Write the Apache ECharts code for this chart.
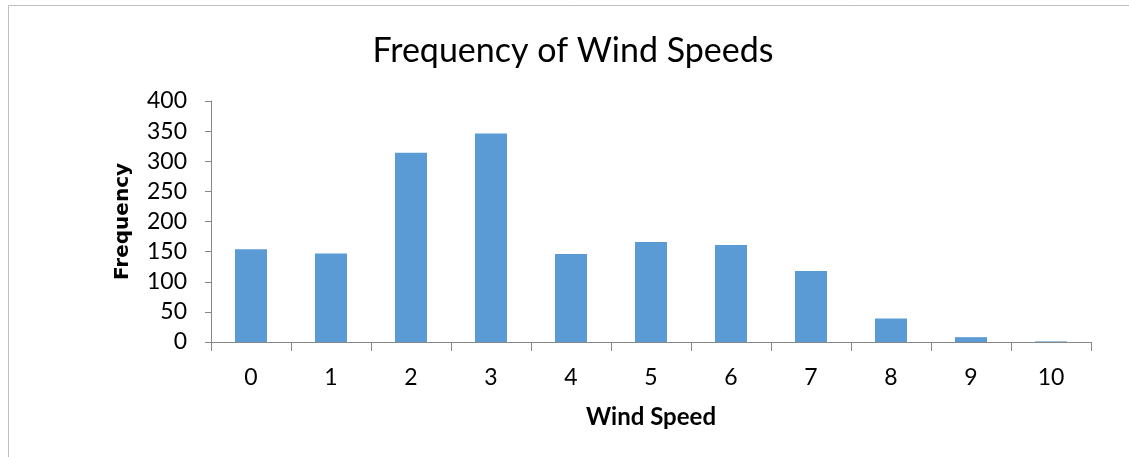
<!DOCTYPE html>
<html><head><meta charset="utf-8">
<script src="https://cdn.jsdelivr.net/npm/echarts@6/dist/echarts.min.js"></script>
<style>html,body{margin:0;padding:0;background:#fff}#c{width:1129px;height:457px}</style>
</head><body><div id="c"></div>
<script>
const categories = ['0','1','2','3','4','5','6','7','8','9','10'];
const frequency = [154, 147, 314, 346, 146, 166, 161, 118, 39, 8, 1];
const yTicks = [0, 50, 100, 150, 200, 250, 300, 350, 400];

const FONT = 'Lato, "Open Sans", sans-serif';
const chart = echarts.init(document.getElementById('c'));
chart.setOption({
  animation: false,
  backgroundColor: '#fff',
  graphic: [{
    type: 'rect', shape: {x: 8.5, y: 5.5, width: 1140, height: 470},
    style: {fill: 'none', stroke: '#bfbfbf', lineWidth: 1}, silent: true
  }],
  title: {
    text: 'Frequency of Wind Speeds', left: 568, top: 29, textAlign: 'center',
    textStyle: {fontFamily: FONT, fontSize: 34, fontWeight: 'normal', color: '#000'}
  },
  grid: {left: 211, right: 38, top: 101, bottom: 115, containLabel: false},
  xAxis: {
    type: 'category', data: categories,
    name: 'Wind Speed', nameLocation: 'middle', nameGap: 63,
    nameTextStyle: {fontFamily: FONT, fontSize: 24, fontWeight: 'bold', color: '#000'},
    axisLine: {lineStyle: {color: '#868686', width: 1}},
    axisTick: {show: true, length: 9, alignWithLabel: false, lineStyle: {color: '#868686'}},
    axisLabel: {fontFamily: FONT, fontSize: 23, color: '#000', margin: 24}
  },
  yAxis: {
    type: 'value', min: 0, max: 400, interval: 50,
    name: 'Frequency', nameLocation: 'middle', nameGap: 78,
    nameTextStyle: {fontFamily: '"DejaVu Sans", sans-serif', fontSize: 20, fontWeight: 'bold', color: '#000'},
    axisLine: {show: true, lineStyle: {color: '#868686', width: 1}},
    axisTick: {show: true, length: 6, lineStyle: {color: '#868686'}},
    splitLine: {show: false},
    axisLabel: {fontFamily: FONT, fontSize: 23, color: '#000', margin: 24,
      formatter: v => yTicks.includes(v) ? String(v) : ''}
  },
  series: [{
    type: 'bar', data: frequency, barWidth: 32,
    itemStyle: {color: '#5B9BD5'}
  }]
});
</script></body></html>
